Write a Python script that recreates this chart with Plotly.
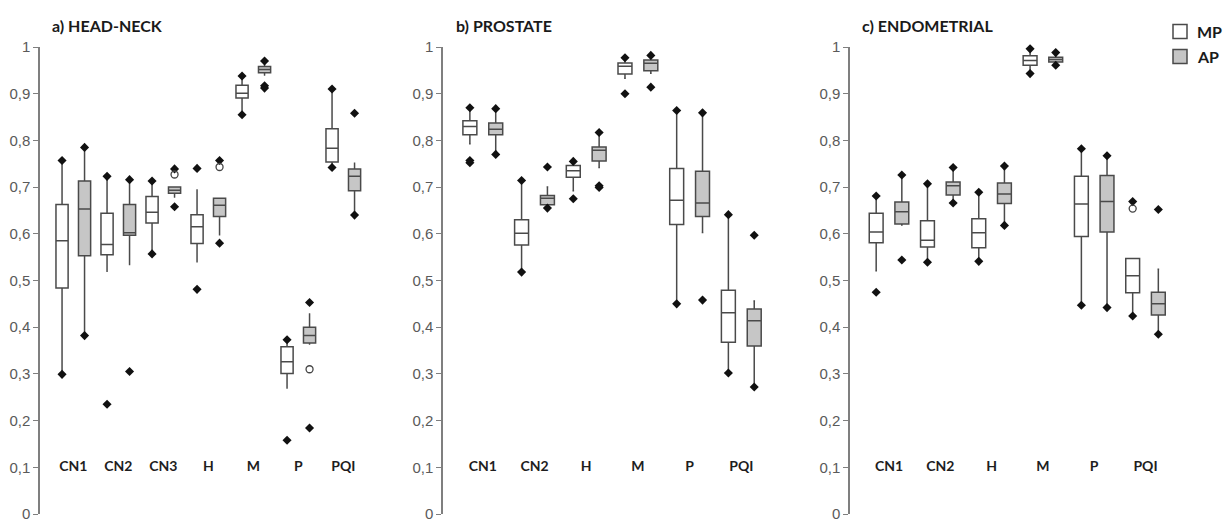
import plotly.graph_objects as go

# ---------------- DATA ----------------
TITLES = ["a) HEAD-NECK", "b) PROSTATE", "c) ENDOMETRIAL"]
TICK_VALS = [0, 0.1, 0.2, 0.3, 0.4, 0.5, 0.6, 0.7, 0.8, 0.9, 1]
TICK_LABELS = ["0", "0,1", "0,2", "0,3", "0,4", "0,5", "0,6", "0,7", "0,8", "0,9", "1"]
SERIES = ["MP", "AP"]

# a) HEAD-NECK
HN_CATS = ["CN1", "CN2", "CN3", "H", "M", "P", "PQI"]
HN_MP_Q1 = [0.484, 0.555, 0.623, 0.579, 0.891, 0.301, 0.754]
HN_MP_MED = [0.585, 0.577, 0.646, 0.615, 0.901, 0.326, 0.783]
HN_MP_Q3 = [0.663, 0.644, 0.680, 0.641, 0.918, 0.358, 0.825]
HN_MP_LO = [0.300, 0.520, 0.557, 0.540, 0.855, 0.270, 0.745]
HN_MP_HI = [0.755, 0.722, 0.713, 0.694, 0.938, 0.373, 0.910]
HN_MP_EXT = [[0.757, 0.299], [0.723, 0.235], [0.713, 0.557], [0.740, 0.481],
             [0.938, 0.855], [0.373, 0.158], [0.910, 0.742]]
HN_MP_OUT = [[], [], [], [], [], [], []]
HN_AP_Q1 = [0.553, 0.597, 0.687, 0.637, 0.945, 0.366, 0.692]
HN_AP_MED = [0.653, 0.602, 0.693, 0.661, 0.952, 0.382, 0.723]
HN_AP_Q3 = [0.713, 0.663, 0.700, 0.676, 0.958, 0.400, 0.739]
HN_AP_LO = [0.382, 0.534, 0.679, 0.598, 0.940, 0.364, 0.640]
HN_AP_HI = [0.785, 0.716, 0.700, 0.676, 0.965, 0.428, 0.751]
HN_AP_EXT = [[0.785, 0.382], [0.716, 0.305], [0.739, 0.658], [0.757, 0.580],
             [0.970, 0.917, 0.912], [0.453, 0.184], [0.858, 0.640]]
HN_AP_OUT = [[], [], [0.727], [0.743], [], [0.310], []]

# b) PROSTATE
PR_CATS = ["CN1", "CN2", "H", "M", "P", "PQI"]
PR_MP_Q1 = [0.812, 0.576, 0.721, 0.942, 0.620, 0.368]
PR_MP_MED = [0.830, 0.601, 0.735, 0.959, 0.672, 0.431]
PR_MP_Q3 = [0.842, 0.630, 0.746, 0.966, 0.740, 0.479]
PR_MP_LO = [0.793, 0.518, 0.692, 0.933, 0.450, 0.302]
PR_MP_HI = [0.870, 0.714, 0.755, 0.977, 0.864, 0.641]
PR_MP_EXT = [[0.870, 0.757, 0.752], [0.714, 0.518], [0.755, 0.675],
             [0.977, 0.900], [0.864, 0.450], [0.641, 0.302]]
PR_MP_OUT = [[], [], [], [], [], []]
PR_AP_Q1 = [0.812, 0.662, 0.756, 0.949, 0.637, 0.360]
PR_AP_MED = [0.824, 0.676, 0.779, 0.965, 0.666, 0.414]
PR_AP_Q3 = [0.837, 0.682, 0.786, 0.972, 0.734, 0.439]
PR_AP_LO = [0.770, 0.655, 0.742, 0.944, 0.603, 0.272]
PR_AP_HI = [0.868, 0.700, 0.817, 0.982, 0.859, 0.456]
PR_AP_EXT = [[0.868, 0.770], [0.743, 0.655], [0.817, 0.703, 0.699],
             [0.982, 0.914], [0.859, 0.458], [0.597, 0.272]]
PR_AP_OUT = [[], [], [], [], [], []]

# c) ENDOMETRIAL
EN_CATS = ["CN1", "CN2", "H", "M", "P", "PQI"]
EN_MP_Q1 = [0.581, 0.572, 0.570, 0.961, 0.594, 0.474]
EN_MP_MED = [0.604, 0.586, 0.602, 0.971, 0.664, 0.510]
EN_MP_Q3 = [0.644, 0.628, 0.632, 0.981, 0.723, 0.547]
EN_MP_LO = [0.521, 0.539, 0.541, 0.943, 0.447, 0.424]
EN_MP_HI = [0.681, 0.707, 0.689, 0.996, 0.782, 0.547]
EN_MP_EXT = [[0.681, 0.475], [0.707, 0.539], [0.689, 0.541],
             [0.996, 0.943], [0.782, 0.447], [0.669, 0.424]]
EN_MP_OUT = [[], [], [], [], [], [0.654]]
EN_AP_Q1 = [0.621, 0.683, 0.665, 0.968, 0.604, 0.426]
EN_AP_MED = [0.647, 0.703, 0.685, 0.973, 0.669, 0.450]
EN_AP_Q3 = [0.668, 0.711, 0.709, 0.978, 0.725, 0.475]
EN_AP_LO = [0.619, 0.666, 0.618, 0.961, 0.442, 0.385]
EN_AP_HI = [0.726, 0.742, 0.745, 0.988, 0.767, 0.524]
EN_AP_EXT = [[0.726, 0.544], [0.742, 0.666], [0.745, 0.618],
             [0.988, 0.961], [0.767, 0.442], [0.652, 0.385]]
EN_AP_OUT = [[], [], [], [], [], []]

LABEL_Y = 0.1

# ---------------- STYLE / LAYOUT ----------------
W, H = 1223, 523


def px_x(p):
    return p / W


def px_y(p):
    return (H - p) / H


FILLS = {"MP": "#ffffff", "AP": "#c6c6c6"}
OFFSETS = {"MP": -0.25, "AP": 0.25}
BOX_W = 0.27
LINE_C = "#4a4a4a"
AX_C = "#7f7f7f"
TXT_FONT = "Lato"

panels = [
    dict(cats=HN_CATS,
         MP=(HN_MP_Q1, HN_MP_MED, HN_MP_Q3, HN_MP_LO, HN_MP_HI, HN_MP_EXT, HN_MP_OUT),
         AP=(HN_AP_Q1, HN_AP_MED, HN_AP_Q3, HN_AP_LO, HN_AP_HI, HN_AP_EXT, HN_AP_OUT),
         px=(40, 400), step=45.0, first=33.3),
    dict(cats=PR_CATS,
         MP=(PR_MP_Q1, PR_MP_MED, PR_MP_Q3, PR_MP_LO, PR_MP_HI, PR_MP_EXT, PR_MP_OUT),
         AP=(PR_AP_Q1, PR_AP_MED, PR_AP_Q3, PR_AP_LO, PR_AP_HI, PR_AP_EXT, PR_AP_OUT),
         px=(443, 810), step=51.7, first=39.8),
    dict(cats=EN_CATS,
         MP=(EN_MP_Q1, EN_MP_MED, EN_MP_Q3, EN_MP_LO, EN_MP_HI, EN_MP_EXT, EN_MP_OUT),
         AP=(EN_AP_Q1, EN_AP_MED, EN_AP_Q3, EN_AP_LO, EN_AP_HI, EN_AP_EXT, EN_AP_OUT),
         px=(850, 1222), step=51.3, first=39.0),
]

fig = go.Figure()
layout_axes = {}
Y_DOM = [px_y(514), px_y(47)]

for p, panel in enumerate(panels):
    k = "" if p == 0 else str(p + 1)
    xa, ya = "x" + k, "y" + k
    cats = panel["cats"]
    idx = list(range(len(cats)))
    for s in SERIES:
        q1, med, q3, lo, hi, ext, out = panel[s]
        xs = [i + OFFSETS[s] for i in idx]
        fig.add_trace(go.Box(
            x=xs, q1=q1, median=med, q3=q3, lowerfence=lo, upperfence=hi,
            width=BOX_W, fillcolor=FILLS[s], name=s,
            line=dict(color=LINE_C, width=1.5), whiskerwidth=0.12,
            boxpoints=False, showlegend=False,
            xaxis=xa, yaxis=ya, hoverinfo="skip"))
        ex_x = [i + OFFSETS[s] for i in idx for _ in ext[i]]
        ex_y = [v for i in idx for v in ext[i]]
        fig.add_trace(go.Scatter(
            x=ex_x, y=ex_y, mode="markers", showlegend=False, cliponaxis=False,
            marker=dict(symbol="diamond", size=7, color="#111111"),
            xaxis=xa, yaxis=ya, hoverinfo="skip"))
        ou_x = [i + OFFSETS[s] for i in idx for _ in out[i]]
        ou_y = [v for i in idx for v in out[i]]
        if ou_y:
            fig.add_trace(go.Scatter(
                x=ou_x, y=ou_y, mode="markers", showlegend=False, cliponaxis=False,
                marker=dict(symbol="circle-open", size=7, color="#444444",
                            line=dict(width=1.3)),
                xaxis=xa, yaxis=ya, hoverinfo="skip"))
    fig.add_trace(go.Scatter(
        x=idx, y=[LABEL_Y] * len(cats), text=cats, mode="text", showlegend=False,
        textfont=dict(family=TXT_FONT, size=14, color="#1e1e1e", weight="bold"),
        xaxis=xa, yaxis=ya, hoverinfo="skip", cliponaxis=False))

    x0px, x1px = panel["px"]
    r0 = -panel["first"] / panel["step"]
    r1 = r0 + (x1px - x0px) / panel["step"]
    layout_axes["xaxis" + k] = dict(domain=[px_x(x0px), px_x(x1px)], range=[r0, r1],
                                     visible=False, anchor=ya)
    layout_axes["yaxis" + k] = dict(
        domain=Y_DOM, range=[0, 1], anchor=xa, showline=True, linecolor=AX_C,
        linewidth=1.5, ticks="outside", ticklen=5, tickcolor=AX_C, tickwidth=1.2,
        tickvals=TICK_VALS, ticktext=TICK_LABELS, showgrid=False, zeroline=False,
        ticklabeloverflow="allow",
        tickfont=dict(family="Arial", size=15, color="#5a5a5a"),
        automargin=False)

TITLE_X_PX = [50, 454, 860]
annotations = [
    dict(text="<b>%s</b>" % t, x=px_x(TITLE_X_PX[i]), y=px_y(25), xref="paper",
         yref="paper", xanchor="left", yanchor="middle", showarrow=False,
         font=dict(family=TXT_FONT, size=16, color="#1a1a1a"))
    for i, t in enumerate(TITLES)
]

# legend (drawn by hand so that it fits flush at the right edge)
LEG_ROWS_PX = [31.5, 56.5]
shapes = []
for s, yc in zip(SERIES, LEG_ROWS_PX):
    shapes.append(dict(type="rect", xref="paper", yref="paper",
                       x0=px_x(1173), x1=px_x(1187), y0=px_y(yc + 7), y1=px_y(yc - 7),
                       fillcolor=FILLS[s], line=dict(color=LINE_C, width=1.5)))
    annotations.append(dict(text="<b>%s</b>" % s, x=px_x(1195), y=px_y(yc),
                            xref="paper", yref="paper", xanchor="left",
                            yanchor="middle", showarrow=False,
                            font=dict(family=TXT_FONT, size=16, color="#1a1a1a")))

fig.update_layout(
    width=W, height=H, template="none",
    margin=dict(l=0, r=0, t=0, b=0),
    paper_bgcolor="white", plot_bgcolor="white",
    annotations=annotations, shapes=shapes, showlegend=False,
    **layout_axes)

# remove the default 8px body margin so the 1223x523 figure fills the window exactly
fig.write_html("out.html",
               config={"displayModeBar": False},
               post_script="document.body.style.margin='0px';"
                           "document.body.style.overflow='hidden';")
